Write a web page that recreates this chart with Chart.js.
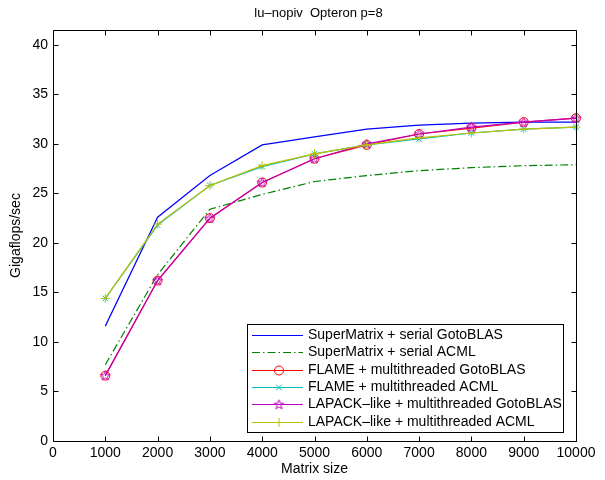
<!DOCTYPE html>
<html><head><meta charset="utf-8">
<script src="https://cdn.jsdelivr.net/npm/chart.js@4.4.0/dist/chart.umd.min.js"></script>
<style>html,body{margin:0;padding:0;background:#fff;}#wrap{width:605px;height:480px;}</style>
</head><body><div id="wrap"><canvas id="c" width="605" height="480"></canvas></div>
<script>
// ---- chart data ----
const chartTitle = 'lu\u2013nopiv  Opteron p=8';
const xLabel = 'Matrix size';
const yLabel = 'Gigaflops/sec';
const matrixSizes = [1000, 2000, 3000, 4000, 5000, 6000, 7000, 8000, 9000, 10000];
const xTicks = [0, 1000, 2000, 3000, 4000, 5000, 6000, 7000, 8000, 9000, 10000];
const yTicks = [0, 5, 10, 15, 20, 25, 30, 35, 40];
const seriesNames = [
  'SuperMatrix + serial GotoBLAS',
  'SuperMatrix + serial ACML',
  'FLAME + multithreaded GotoBLAS',
  'FLAME + multithreaded ACML',
  'LAPACK\u2013like + multithreaded GotoBLAS',
  'LAPACK\u2013like + multithreaded ACML'
];
const superMatrixGoto = [11.6, 22.6, 26.8, 29.9, 30.7, 31.5, 31.9, 32.1, 32.2, 32.2];
const superMatrixAcml = [7.7, 16.8, 23.4, 24.9, 26.2, 26.8, 27.3, 27.6, 27.8, 27.9];
const flameGoto       = [6.6, 16.2, 22.5, 26.1, 28.5, 29.9, 31.0, 31.6, 32.2, 32.6];
const flameAcml       = [14.4, 21.8, 25.8, 27.7, 29.0, 29.9, 30.5, 31.1, 31.5, 31.7];
const lapackGoto      = [6.6, 16.2, 22.5, 26.1, 28.5, 30.0, 31.0, 31.7, 32.2, 32.6];
const lapackAcml      = [14.4, 21.9, 25.8, 27.8, 29.0, 29.9, 30.6, 31.1, 31.5, 31.7];
const yMax = 41.5;

// ---- styling ----
const FONT = "'Liberation Sans', Arial, Helvetica, sans-serif";
Chart.defaults.font.family = FONT;
Chart.defaults.font.size = 14;
Chart.defaults.color = '#000';

function makeStar(color) {
  const c = document.createElement('canvas');
  c.width = 13; c.height = 13;
  const g = c.getContext('2d');
  g.strokeStyle = color; g.lineWidth = 1;
  g.beginPath();
  for (let k = 0; k < 10; k++) {
    const r = (k % 2 === 0) ? 5 : 2.1;
    const a = -Math.PI / 2 + k * Math.PI / 5;
    const px = 6.5 + r * Math.cos(a), py = 6.8 + r * Math.sin(a);
    if (k === 0) g.moveTo(px, py); else g.lineTo(px, py);
  }
  g.closePath(); g.stroke();
  return c;
}

const pts = arr => arr.map((v, i) => ({x: matrixSizes[i], y: v}));
const styles = [
  {color: '#0000ff', dash: [], pointStyle: false, radius: 0},
  {color: '#008000', dash: [8, 3, 1.5, 3], pointStyle: false, radius: 0},
  {color: '#ff0000', dash: [], pointStyle: 'circle', radius: 4.5},
  {color: '#00bfbf', dash: [], pointStyle: 'crossRot', radius: 4},
  {color: '#bf00bf', dash: [], pointStyle: makeStar('#bf00bf'), radius: 6},
  {color: '#bfbf00', dash: [], pointStyle: 'cross', radius: 4.5}
];
const seriesValues = [superMatrixGoto, superMatrixAcml, flameGoto, flameAcml, lapackGoto, lapackAcml];

const datasets = seriesValues.map((vals, i) => ({
  label: seriesNames[i],
  data: pts(vals),
  borderColor: styles[i].color,
  backgroundColor: 'rgba(0,0,0,0)',
  borderWidth: 1.2,
  borderDash: styles[i].dash,
  pointStyle: styles[i].pointStyle || 'circle',
  pointRadius: styles[i].radius,
  pointBorderColor: styles[i].color,
  pointBackgroundColor: 'rgba(0,0,0,0)',
  pointBorderWidth: 1,
  tension: 0,
  fill: false,
  clip: false,
  order: 5 - i
}));

const framePlugin = {
  id: 'frame',
  afterDatasetsDraw(chart) {
    const {ctx, chartArea: a, scales: {x, y}} = chart;
    ctx.save();
    ctx.strokeStyle = '#000'; ctx.lineWidth = 1;
    ctx.setLineDash([]);
    const L = Math.round(a.left) + 0.5, R = Math.round(a.right) + 0.5;
    const T = Math.round(a.top) + 0.5, B = Math.round(a.bottom) + 0.5;
    ctx.beginPath();
    ctx.rect(L, T, R - L, B - T);
    ctx.stroke();
    const tl = 5;
    ctx.beginPath();
    x.ticks.forEach(t => {
      const px = Math.round(x.getPixelForValue(t.value)) + 0.5;
      ctx.moveTo(px, B); ctx.lineTo(px, B - tl);
      ctx.moveTo(px, T); ctx.lineTo(px, T + tl);
    });
    y.ticks.forEach(t => {
      const py = Math.round(y.getPixelForValue(t.value)) + 0.5;
      ctx.moveTo(L, py); ctx.lineTo(L + tl, py);
      ctx.moveTo(R, py); ctx.lineTo(R - tl, py);
    });
    ctx.stroke();
    // title
    ctx.fillStyle = '#000';
    ctx.font = '13px ' + FONT;
    ctx.textAlign = 'center'; ctx.textBaseline = 'middle';
    ctx.fillText(chartTitle, (a.left + a.right) / 2 + 4, 13);
    ctx.restore();
  }
};

const legendPlugin = {
  id: 'boxLegend',
  afterDraw(chart) {
    const {ctx, chartArea: a} = chart;
    const right = Math.round(a.right) - 13, bottom = Math.round(a.bottom) - 9;
    const left = right - 316, top = bottom - 108;
    ctx.save();
    ctx.fillStyle = '#fff';
    ctx.fillRect(left, top, right - left, bottom - top);
    ctx.strokeStyle = '#000'; ctx.lineWidth = 1;
    ctx.strokeRect(left + 0.5, top + 0.5, right - left, bottom - top);
    const rowH = 17.35;
    chart.data.datasets.forEach((ds, i) => {
      const yy = Math.round(top + 11 + i * rowH) + 0.5;
      ctx.strokeStyle = ds.borderColor;
      ctx.lineWidth = ds.borderWidth;
      ctx.setLineDash(ds.borderDash || []);
      ctx.beginPath();
      ctx.moveTo(left + 5, yy); ctx.lineTo(left + 56, yy);
      ctx.stroke();
      ctx.setLineDash([]);
      if (ds.pointRadius > 0) {
        ctx.fillStyle = 'rgba(0,0,0,0)';
        ctx.strokeStyle = ds.pointBorderColor;
        ctx.lineWidth = 1;
        Chart.helpers.drawPoint(ctx, {pointStyle: ds.pointStyle, rotation: 0, radius: ds.pointRadius, borderWidth: 1}, left + 32, yy);
      }
      ctx.fillStyle = '#000';
      ctx.font = '14px ' + FONT;
      ctx.textAlign = 'left'; ctx.textBaseline = 'middle';
      ctx.fillText(ds.label, left + 61, yy);
    });
    ctx.restore();
  }
};

new Chart(document.getElementById('c'), {
  type: 'line',
  data: {datasets},
  options: {
    responsive: false,
    animation: false,
    devicePixelRatio: 1,
    events: [],
    layout: {padding: {left: 0, right: 29, top: 30, bottom: 0}},
    plugins: {legend: {display: false}, tooltip: {enabled: false}, title: {display: false}},
    scales: {
      x: {
        type: 'linear', min: 0, max: 10000,
        afterBuildTicks: s => { s.ticks = xTicks.map(v => ({value: v})); },
        afterFit: s => { s.height = 39; },
        grid: {display: false, drawTicks: false},
        border: {display: false},
        ticks: {padding: 4, maxRotation: 0, autoSkip: false, color: '#000', callback: v => String(v)},
        title: {display: true, text: xLabel, color: '#000', padding: {top: 0, bottom: 2}}
      },
      y: {
        type: 'linear', min: 0, max: yMax,
        afterBuildTicks: s => { s.ticks = yTicks.map(v => ({value: v})); },
        afterFit: s => { s.width = 53; },
        grid: {display: false, drawTicks: false},
        border: {display: false},
        ticks: {padding: 5, autoSkip: false, color: '#000', callback: v => String(v)},
        title: {display: true, text: yLabel, color: '#000', padding: {top: 8, bottom: 0}}
      }
    }
  },
  plugins: [framePlugin, legendPlugin]
});
</script>
</body></html>
